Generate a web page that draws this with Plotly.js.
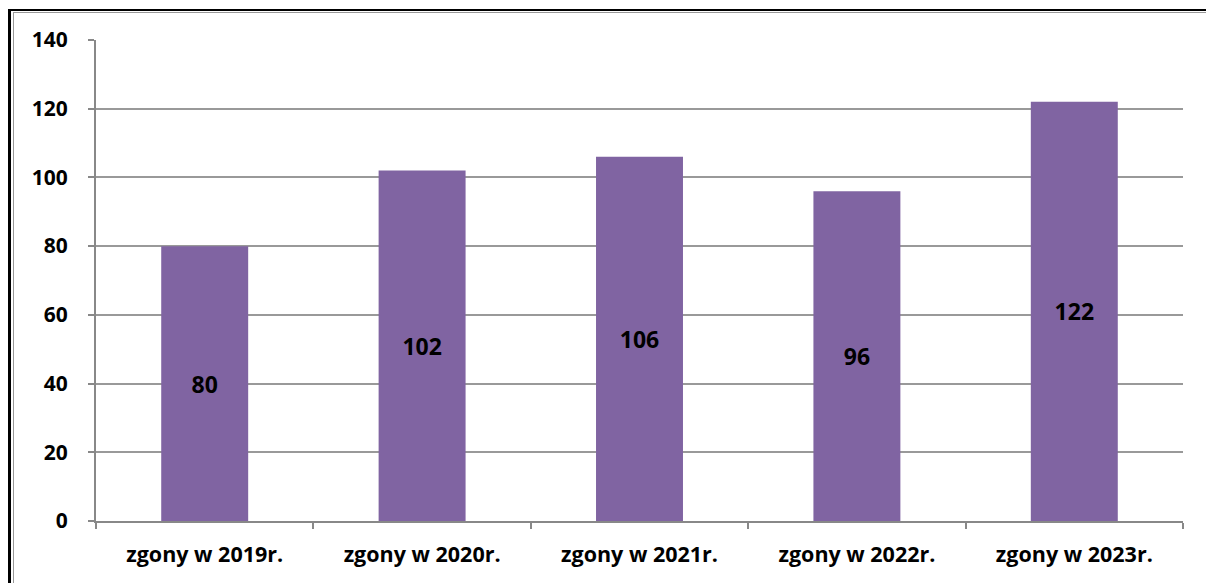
<!DOCTYPE html>
<html>
<head>
<meta charset="utf-8">
<script src="https://cdn.plot.ly/plotly-3.0.1.min.js"></script>
<style>
  html, body { margin: 0; padding: 0; background: #fff; }
  #frame {
    position: absolute; left: 8px; top: 9px; width: 1198px; height: 574px;
    border-left: 3px solid #000; border-top: 2px solid #000;
  }
  #inner {
    position: absolute; left: 13px; top: 12px; width: 1193px; height: 571px;
    border-left: 1px solid #999; border-top: 1px solid #999;
  }
  #chart { position: absolute; left: 0; top: 0; width: 1206px; height: 583px; }
</style>
</head>
<body>
<div id="frame"></div>
<div id="inner"></div>
<div id="chart"></div>
<script>
// lata i liczba zgonów
let categories = ["zgony w 2019r.", "zgony w 2020r.", "zgony w 2021r.", "zgony w 2022r.", "zgony w 2023r."];
let deaths = [80, 102, 106, 96, 122];
let yTicks = [0, 20, 40, 60, 80, 100, 120, 140];

let trace1 = {
    x: categories,
    y: deaths,
    type: "bar",
    marker: { color: "#8064A2" },
    text: deaths.map(String),
    textposition: "inside",
    insidetextanchor: "middle",
    textfont: { family: "Open Sans", size: 23, color: "#000", weight: "bold" },
    hoverinfo: "none"
};

var layout = {
    width: 1206,
    height: 583,
    margin: { l: 96, r: 23, t: 40, b: 62 },
    paper_bgcolor: "rgba(0,0,0,0)",
    plot_bgcolor: "rgba(0,0,0,0)",
    bargap: 0.6,
    showlegend: false,
    font: { family: "Open Sans", size: 21, color: "#000", weight: "bold" },
    xaxis: {
        showline: true,
        linecolor: "#888",
        linewidth: 2,
        ticks: "outside",
        tickson: "boundaries",
        ticklen: 6,
        tickcolor: "#888",
        tickwidth: 2,
        ticklabelstandoff: 13,
        tickfont: { family: "Open Sans", size: 21.5, weight: "bold" }
    },
    yaxis: {
        range: [0, 140],
        tickvals: yTicks,
        showline: true,
        linecolor: "#888",
        linewidth: 2,
        ticks: "outside",
        ticklen: 6,
        tickcolor: "#888",
        tickwidth: 2,
        gridcolor: "#999",
        gridwidth: 2,
        zeroline: false,
        ticklabelstandoff: 16,
        tickfont: { family: "Open Sans", size: 21, weight: "bold" }
    }
};

Plotly.newPlot("chart", [trace1], layout, { staticPlot: true });
</script>
</body>
</html>
